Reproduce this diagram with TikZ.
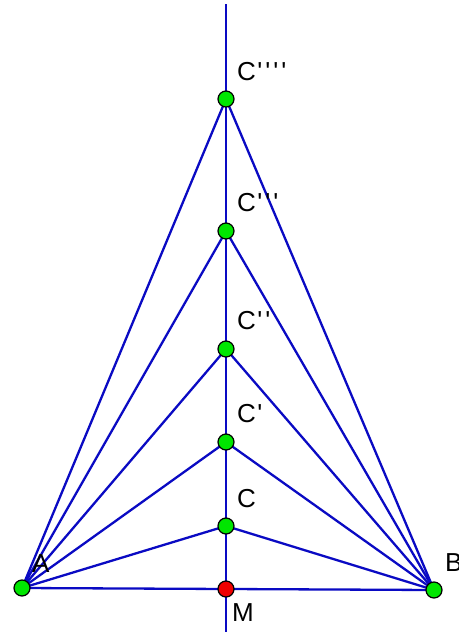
\documentclass[tikz,border=0pt]{standalone}
\usepackage{fontspec}
\setmainfont{Liberation Sans}[Ligatures=TeXOff]
\definecolor{lineblue}{RGB}{10,10,195}
\definecolor{ptgreen}{RGB}{0,230,0}
\definecolor{ptred}{RGB}{240,0,0}
\newcommand{\pq}{\kern1.5pt'\kern1.5pt}
\begin{document}
\begin{tikzpicture}[x=1pt,y=-1pt,
  seg/.style={draw=lineblue,line width=2.3pt},
  pt/.style={circle,draw=black,line width=1.2pt,fill=ptgreen,minimum size=16pt,inner sep=0pt},
  ptr/.style={pt,fill=ptred},
  lbl/.style={anchor=west,inner sep=0pt,font=\fontsize{26}{26}\selectfont}]
\useasboundingbox (0,0) rectangle (458,632);
\coordinate (top) at (226,4);
\coordinate (bot) at (226,640);
\coordinate (pA) at (22,588);
\coordinate (pB) at (434,590);
\coordinate (pM) at (226,589);
\coordinate (pC) at (226,526);
\coordinate (pC1) at (226,442);
\coordinate (pC2) at (226,349);
\coordinate (pC3) at (226,231);
\coordinate (pC4) at (226,99);
\draw[seg] (top) -- (bot);
\draw[seg] (pA) -- (pB);
\foreach \c in {pC,pC1,pC2,pC3,pC4}{
  \draw[seg] (pA) -- (\c) -- (pB);
}
\node[pt] (A) at (pA) {};
\node[pt] (B) at (pB) {};
\node[ptr] (M) at (pM) {};
\node[pt] (C) at (pC) {};
\node[pt] (C1) at (pC1) {};
\node[pt] (C2) at (pC2) {};
\node[pt] (C3) at (pC3) {};
\node[pt] (C4) at (pC4) {};
\node[lbl] (lC4) at (237,72) {C\pq\pq\pq\pq};
\node[lbl] (lC3) at (237,203) {C\pq\pq\pq};
\node[lbl] (lC2) at (237,321) {C\pq\pq};
\node[lbl] (lC1) at (237,414) {C\pq};
\node[lbl] (lC) at (237,499) {C};
\node[lbl] (lA) at (32,564) {A};
\node[lbl] (lB) at (445,563) {B};
\node[lbl] (lM) at (232,613) {M};
\end{tikzpicture}
\end{document}
